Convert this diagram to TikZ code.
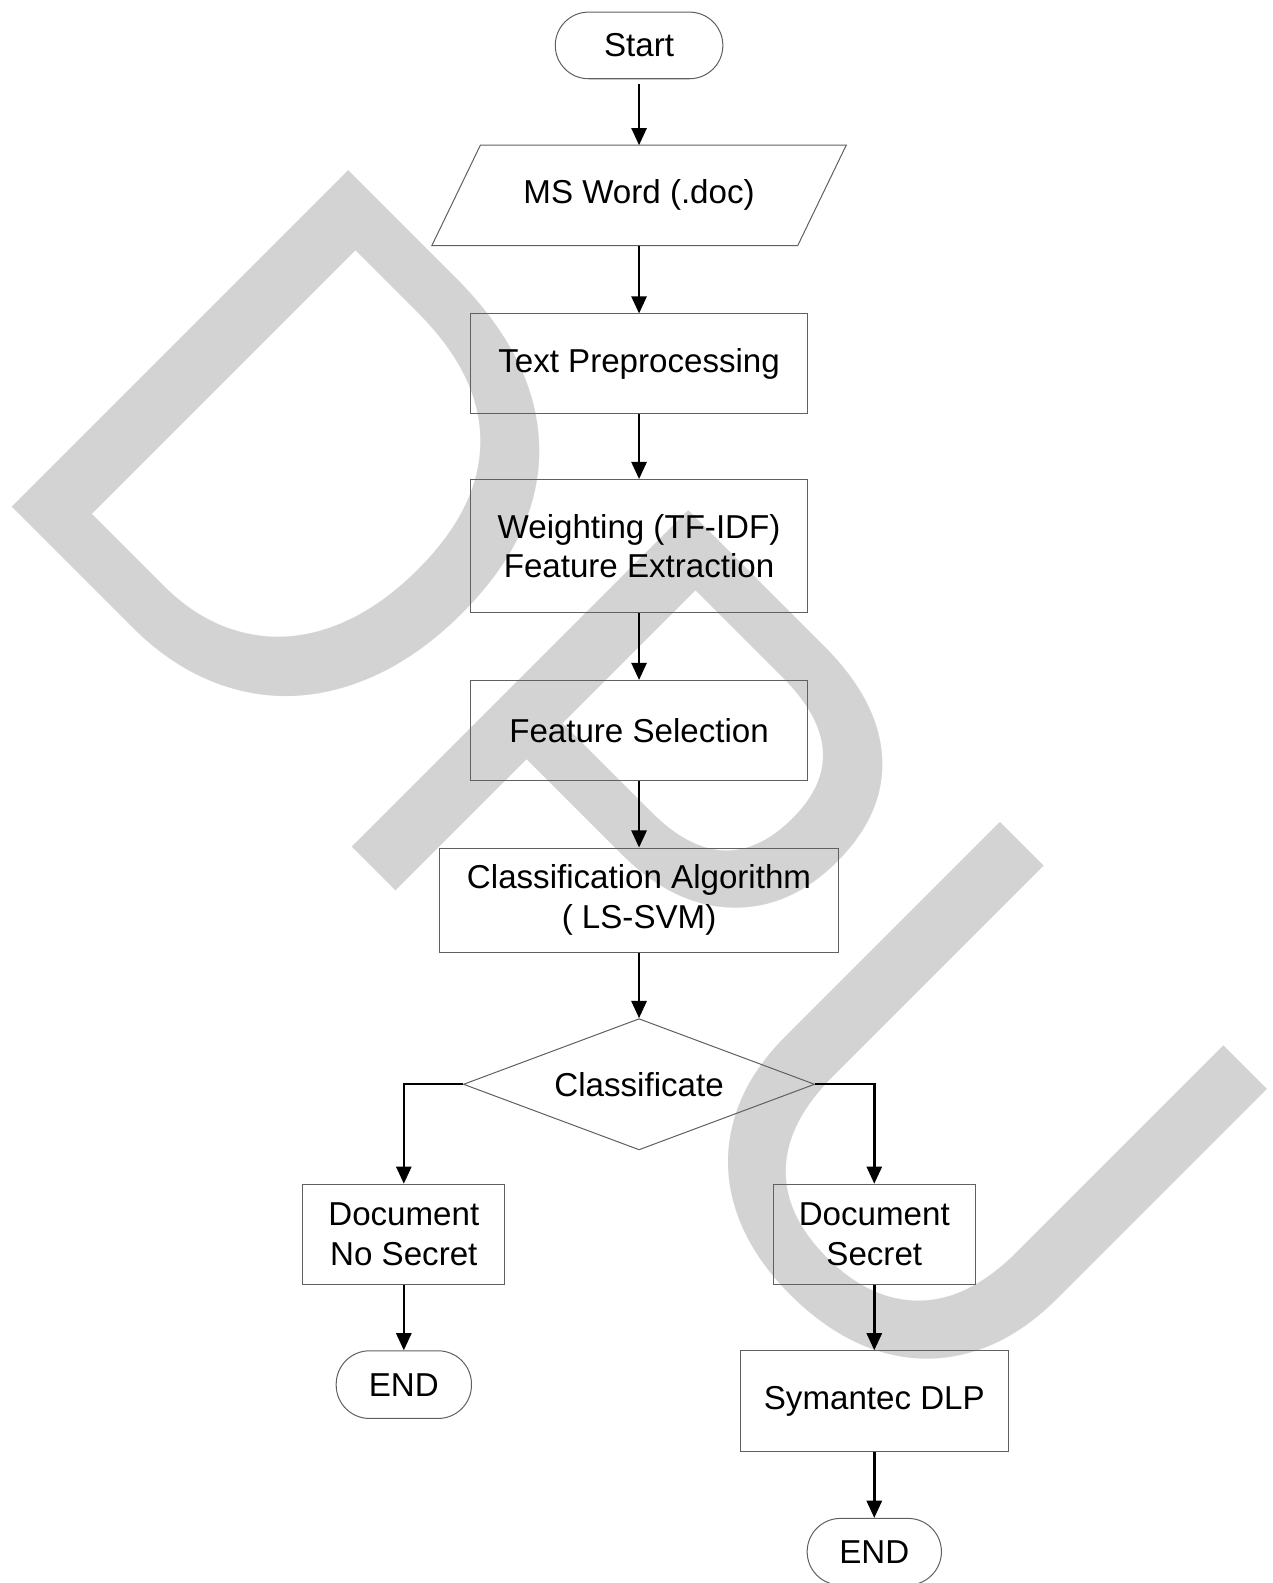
\documentclass[tikz,border=0pt]{standalone}
\usepackage{fontspec}
\setmainfont{Liberation Sans}
\newfontfamily\wmfont{Liberation Sans}
\usetikzlibrary{shapes.geometric, arrows.meta}
\definecolor{wmgray}{RGB}{211,211,211}
\definecolor{linegray}{RGB}{96,96,96}

\begin{document}
\begin{tikzpicture}[x=1pt, y=-1pt, font=\fontsize{32.8}{39}\selectfont,
  flowbox/.style={rectangle, draw=linegray, line width=1pt, align=center, inner sep=0pt},
  termbox/.style={rectangle, rounded corners=33pt, draw=linegray, line width=1pt, minimum height=66pt, inner sep=0pt},
  flowarrow/.style={-{Triangle[length=17pt,width=15pt]}, line width=2.4pt}]
\useasboundingbox (0,0) rectangle (1260,1568);

% Watermark
\node[wmgray, anchor=base west, rotate=-45, inner sep=0pt, font=\wmfont\fontsize{659}{700}\selectfont] (wm) at (-26.1,464.2) {\scalebox{1}[1.04]{DPU}};

% Main column
\node[termbox, minimum width=166pt] (start) at (633,45) {Start};
\node[inner sep=0pt, minimum width=362pt, minimum height=99pt] (doc) at (633,193.5) {MS Word (.doc)};
\draw[linegray, line width=1pt] ([xshift=24pt]doc.north west) -- ([xshift=24pt]doc.north east)
  -- ([xshift=-24pt]doc.south east) -- ([xshift=-24pt]doc.south west) -- cycle;
\node[flowbox, minimum width=333pt, minimum height=99pt] (prep) at (633,360.5) {Text Preprocessing};
\node[flowbox, minimum width=333pt, minimum height=132pt] (weight) at (633,541) {Weighting (TF-IDF)\\Feature Extraction};
\node[flowbox, minimum width=333pt, minimum height=99pt] (fsel) at (633,723.5) {Feature Selection};
\node[flowbox, minimum width=395pt, minimum height=103pt] (algo) at (633,891.5) {Classification Algorithm\\( LS-SVM)};
\node[diamond, draw=linegray, line width=1pt, inner sep=0pt, aspect=2.68, minimum width=348pt, minimum height=130pt] (dia) at (633,1074) {Classificate};

% Branches
\node[flowbox, minimum width=200pt, minimum height=99pt] (nosec) at (400,1222.5) {Document\\No Secret};
\node[flowbox, minimum width=200pt, minimum height=99pt] (sec) at (866,1222.5) {Document\\Secret};
\node[termbox, minimum width=134pt, minimum height=67pt] (endl) at (400,1371.5) {END};
\node[flowbox, minimum width=266pt, minimum height=100pt] (dlp) at (866,1388) {Symantec DLP};
\node[termbox, minimum width=133pt] (endr) at (866,1537) {END};

% Arrows
\draw[flowarrow] ([yshift=-5pt]start.south) -- (doc);
\draw[flowarrow] (doc) -- (prep);
\draw[flowarrow] (prep) -- (weight);
\draw[flowarrow] (weight) -- (fsel);
\draw[flowarrow] (fsel) -- (algo);
\draw[flowarrow] (algo) -- (dia);
\draw[flowarrow] (dia.west) -| (nosec.north);
\draw[flowarrow] (dia.east) -| (sec.north);
\draw[flowarrow] (nosec) -- (endl);
\draw[flowarrow] (sec) -- (dlp);
\draw[flowarrow] (dlp) -- (endr);

\end{tikzpicture}
\end{document}
